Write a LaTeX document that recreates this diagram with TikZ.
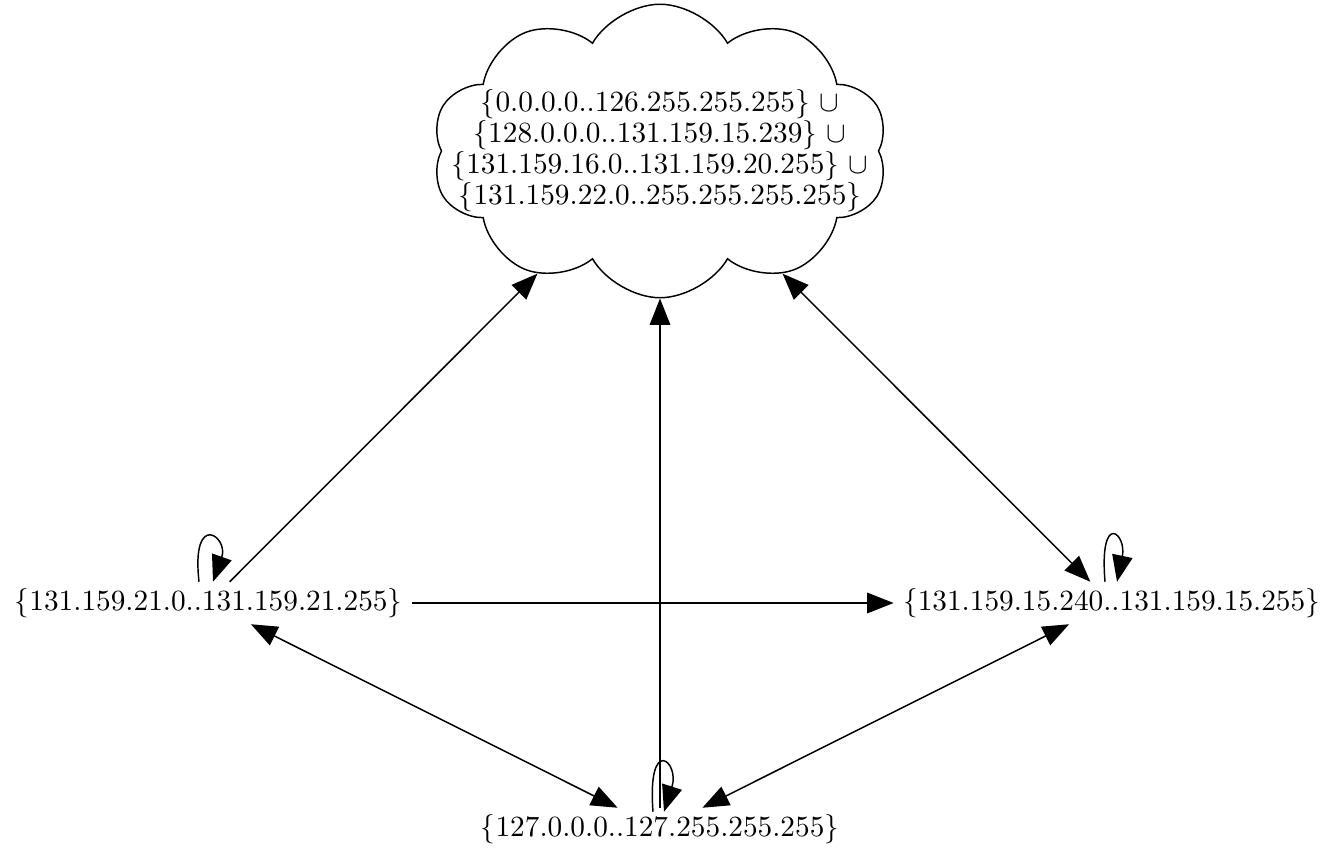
\documentclass[tikz,border=0pt]{standalone}
\usepackage{amsmath}
\usepackage{amssymb}
\usetikzlibrary{arrows.meta,shapes.symbols,calc}

\begin{document}
\begin{tikzpicture}[x=0.012cm,y=-0.012cm,line width=0.5pt,
    ipnode/.style={inner xsep=3pt,inner ysep=2pt},
    arr/.style={-{Triangle[length=9pt,width=7pt]}},
    biarr/.style={{Triangle[length=9pt,width=7pt]}-{Triangle[length=9pt,width=7pt]}}]

    \useasboundingbox (0,0) rectangle (1338,851);

    % Cloud with the remaining addresses
    \node[cloud, draw, cloud puffs=10, cloud puff arc=120, cloud ignores aspect,
          minimum width=5.47cm, minimum height=3.52cm, inner sep=0pt] (rest) at (660,151) {};
    \node[align=center, font=\fontsize{10pt}{10.6pt}\selectfont] (resttext) at (rest.center)
         {$\{0.0.0.0..126.255.255.255\}$ $\cup$\\
          $\{128.0.0.0..131.159.15.239\}$ $\cup$\\
          $\{131.159.16.0..131.159.20.255\}$ $\cup$\\
          $\{131.159.22.0..255.255.255.255\}$};

    % Address ranges
    \node[ipnode] (net21) at (208.5,603) {$\{131.159.21.0..131.159.21.255\}$};
    \node[ipnode] (net15) at (1111.5,603) {$\{131.159.15.240..131.159.15.255\}$};
    \node[ipnode] (lo) at (660,829) {$\{127.0.0.0..127.255.255.255\}$};

    % Edges
    \draw[arr] (net21) -- (rest);
    \draw[biarr] (rest) -- (net15);
    \draw[arr] (lo) -- (rest);
    \draw[arr] (net21) -- (net15);
    \draw[biarr] (net21) -- (lo);
    \draw[biarr] (net15) -- (lo);

    % Self loops
    \draw[arr] ($(net21.north)+(-9.5,0)$) .. controls +(-8,-72) and +(16,-45) .. ($(net21.north)+(4.5,0)$);
    \draw[arr] ($(net15.north)+(-6.5,0)$) .. controls +(-6,-72) and +(10,-48) .. ($(net15.north)+(5.5,0)$);
    \draw[arr] ($(lo.north)+(-7,4)$) .. controls +(-6,-78) and +(16,-50) .. ($(lo.north)+(4,4)$);

\end{tikzpicture}
\end{document}
